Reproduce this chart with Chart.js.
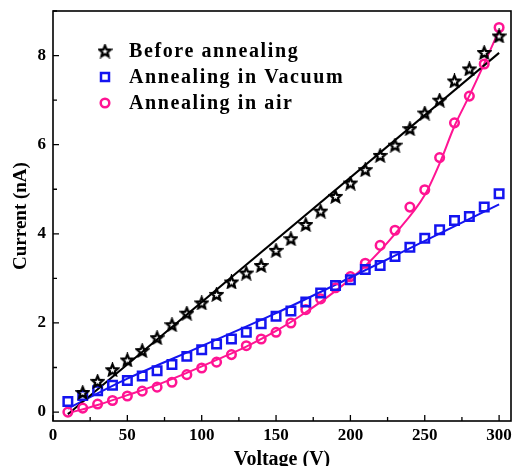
<!DOCTYPE html>
<html>
<head>
<meta charset="utf-8">
<script src="https://cdn.jsdelivr.net/npm/chart.js@4"></script>
<style>
  body { margin: 0; background: #fff; }
  #iv { display: block; }
</style>
</head>
<body>
<canvas id="iv" width="513" height="466"></canvas>
<script>
// measured points (V, nA)
const seriesNames = ["Before annealing", "Annealing in Vacuum", "Annealing in air"];

const voltageBefore = [20, 30, 40, 50, 60, 70, 80, 90, 100, 110, 120, 130, 140, 150, 160,
  170, 180, 190, 200, 210, 220, 230, 240, 250, 260, 270, 280, 290, 300];
const currentBefore = [0.44, 0.69, 0.95, 1.17, 1.38, 1.67, 1.96, 2.22, 2.45, 2.64, 2.92, 3.12, 3.29, 3.63, 3.89,
  4.21, 4.51, 4.84, 5.14, 5.44, 5.76, 5.99, 6.36, 6.71, 7.0, 7.43, 7.70, 8.07, 8.44];

const voltage = [10, 20, 30, 40, 50, 60, 70, 80, 90, 100, 110, 120, 130, 140, 150,
  160, 170, 180, 190, 200, 210, 220, 230, 240, 250, 260, 270, 280, 290, 300];
const currentVacuum = [0.24, 0.37, 0.48, 0.60, 0.71, 0.81, 0.93, 1.07, 1.25, 1.40, 1.53, 1.64, 1.79, 1.98, 2.15,
  2.27, 2.47, 2.67, 2.84, 2.97, 3.20, 3.29, 3.49, 3.70, 3.90, 4.09, 4.30, 4.39, 4.60, 4.90];
const currentAir = [0.0, 0.09, 0.18, 0.26, 0.36, 0.47, 0.56, 0.67, 0.84, 0.99, 1.12, 1.29, 1.49, 1.64, 1.79,
  2.0, 2.30, 2.54, 2.79, 3.04, 3.34, 3.74, 4.08, 4.60, 4.99, 5.71, 6.49, 7.09, 7.81, 8.63];

// fitted curves
const fitBeforeX = [10, 300];
const fitBeforeY = [-0.05, 8.06];
const fitVacuumX = [10, 50, 100, 150, 200, 250, 300];
const fitVacuumY = [0.08, 0.75, 1.48, 2.22, 3.02, 3.84, 4.66];
const fitAirX = [10, 30, 50, 70, 90, 110, 130, 150, 170, 190, 210, 230, 250, 260, 270, 280, 290, 300];
const fitAirY = [-0.03, 0.16, 0.38, 0.61, 0.88, 1.17, 1.47, 1.82, 2.24, 2.72, 3.28, 4.0, 4.87, 5.58, 6.42, 7.1, 7.82, 8.57];

const xTicks = [0, 50, 100, 150, 200, 250, 300];
const yTicks = [0, 2, 4, 6, 8];

const BLACK = "#000000";
const BLUE = "#1414f0";
const PINK = "#ff1493";
const FONT = "'Liberation Serif', 'Times New Roman', serif";

const toPoints = (xs, ys) => xs.map((x, i) => ({ x: x, y: ys[i] }));

// five pointed star outline used as point style
function makeStar(size) {
  const c = document.createElement("canvas");
  c.width = size;
  c.height = size;
  const g = c.getContext("2d");
  const cx = size / 2, cy = size / 2 + 0.5;
  const ro = size / 2 - 1.6, ri = ro * 0.45;
  g.beginPath();
  for (let i = 0; i < 10; i++) {
    const r = i % 2 === 0 ? ro : ri;
    const a = -Math.PI / 2 + i * Math.PI / 5;
    const px = cx + r * Math.cos(a), py = cy + r * Math.sin(a);
    if (i === 0) g.moveTo(px, py); else g.lineTo(px, py);
  }
  g.closePath();
  g.lineJoin = "miter";
  g.lineWidth = 2.3;
  g.strokeStyle = BLACK;
  g.stroke();
  return c;
}
const starImg = makeStar(15);

// no extra room for edge labels, the plot box is fixed
function noPad(s) {
  s.paddingLeft = 0;
  s.paddingRight = 0;
  s.paddingTop = 0;
  s.paddingBottom = 0;
}

// frame and inward ticks
const framePlugin = {
  id: "frame",
  beforeDatasetsDraw(chart) {
    const { ctx, chartArea: a, scales } = chart;
    ctx.save();
    ctx.strokeStyle = BLACK;
    ctx.lineWidth = 1.6;
    ctx.strokeRect(a.left, a.top, a.right - a.left, a.bottom - a.top);
    ctx.lineWidth = 1.3;
    ctx.beginPath();
    for (let v = 0; v <= 300; v += 25) {
      const px = scales.x.getPixelForValue(v);
      const len = v % 50 === 0 ? 6 : 4;
      ctx.moveTo(px, a.bottom);
      ctx.lineTo(px, a.bottom - len);
    }
    for (let v = 0; v <= 9; v += 1) {
      const py = scales.y.getPixelForValue(v);
      const len = v % 2 === 0 ? 6 : 4;
      ctx.moveTo(a.left, py);
      ctx.lineTo(a.left + len, py);
    }
    ctx.stroke();
    ctx.restore();
  },
  afterDraw(chart) {
    // legend inside the plot
    const ctx = chart.ctx;
    const rows = [51, 77, 103];
    ctx.save();
    ctx.font = "bold 20px " + FONT;
    ctx.letterSpacing = "1.6px";
    ctx.textBaseline = "middle";
    ctx.fillStyle = BLACK;
    seriesNames.forEach((name, i) => {
      const y = rows[i];
      if (i === 0) {
        ctx.drawImage(starImg, 105 - 7.5, y - 7.5);
      } else if (i === 1) {
        ctx.strokeStyle = BLUE;
        ctx.lineWidth = 2.5;
        ctx.strokeRect(101, y - 4, 8, 8);
      } else {
        ctx.strokeStyle = PINK;
        ctx.lineWidth = 2.5;
        ctx.beginPath();
        ctx.arc(105, y, 4.3, 0, Math.PI * 2);
        ctx.stroke();
      }
      ctx.fillText(name, 129, y + 1);
    });
    ctx.restore();
  }
};

new Chart(document.getElementById("iv"), {
  type: "scatter",
  plugins: [framePlugin],
  data: {
    datasets: [
      {
        label: seriesNames[0],
        data: toPoints(voltageBefore, currentBefore),
        pointStyle: starImg,
        pointRadius: 7,
        showLine: false
      },
      {
        label: seriesNames[1],
        data: toPoints(voltage, currentVacuum),
        pointStyle: "rect",
        pointRadius: 6,
        borderColor: BLUE,
        backgroundColor: "transparent",
        pointBorderWidth: 2.5,
        showLine: false
      },
      {
        label: seriesNames[2],
        data: toPoints(voltage, currentAir),
        pointStyle: "circle",
        pointRadius: 4.3,
        borderColor: PINK,
        backgroundColor: "transparent",
        pointBorderWidth: 2.5,
        showLine: false
      },
      {
        label: "fit before",
        data: toPoints(fitBeforeX, fitBeforeY),
        showLine: true,
        pointRadius: 0,
        borderColor: BLACK,
        borderWidth: 2
      },
      {
        label: "fit vacuum",
        data: toPoints(fitVacuumX, fitVacuumY),
        showLine: true,
        pointRadius: 0,
        borderColor: BLUE,
        borderWidth: 2,
        cubicInterpolationMode: "monotone"
      },
      {
        label: "fit air",
        data: toPoints(fitAirX, fitAirY),
        showLine: true,
        pointRadius: 0,
        borderColor: PINK,
        borderWidth: 2,
        cubicInterpolationMode: "monotone"
      }
    ]
  },
  options: {
    responsive: false,
    animation: false,
    layout: { autoPadding: false, padding: { top: 11, right: 2, left: 0, bottom: 0 } },
    plugins: {
      legend: { display: false },
      tooltip: { enabled: false }
    },
    scales: {
      x: {
        type: "linear",
        min: 0,
        max: 308,
        afterFit: (s) => { s.height = 45; noPad(s); },
        afterBuildTicks: (s) => { s.ticks = xTicks.map(v => ({ value: v })); },
        grid: { display: false, drawTicks: false },
        border: { display: false },
        ticks: {
          padding: 4,
          color: BLACK,
          font: { family: FONT, size: 17, weight: "bold" }
        },
        title: {
          display: true,
          text: "Voltage (V)",
          color: BLACK,
          font: { family: FONT, size: 20, weight: "bold", lineHeight: 1 },
          padding: { top: 0, bottom: -4 }
        }
      },
      y: {
        type: "linear",
        min: -0.2,
        max: 9.0,
        afterFit: (s) => { s.width = 53; noPad(s); },
        afterBuildTicks: (s) => { s.ticks = yTicks.map(v => ({ value: v })); },
        grid: { display: false, drawTicks: false },
        border: { display: false },
        ticks: {
          padding: 7,
          color: BLACK,
          font: { family: FONT, size: 17, weight: "bold" }
        },
        title: {
          display: true,
          text: "Current (nA)",
          color: BLACK,
          font: { family: FONT, size: 19, weight: "bold", lineHeight: 1 },
          padding: { top: 12, bottom: 0 }
        }
      }
    }
  }
});
</script>
</body>
</html>
